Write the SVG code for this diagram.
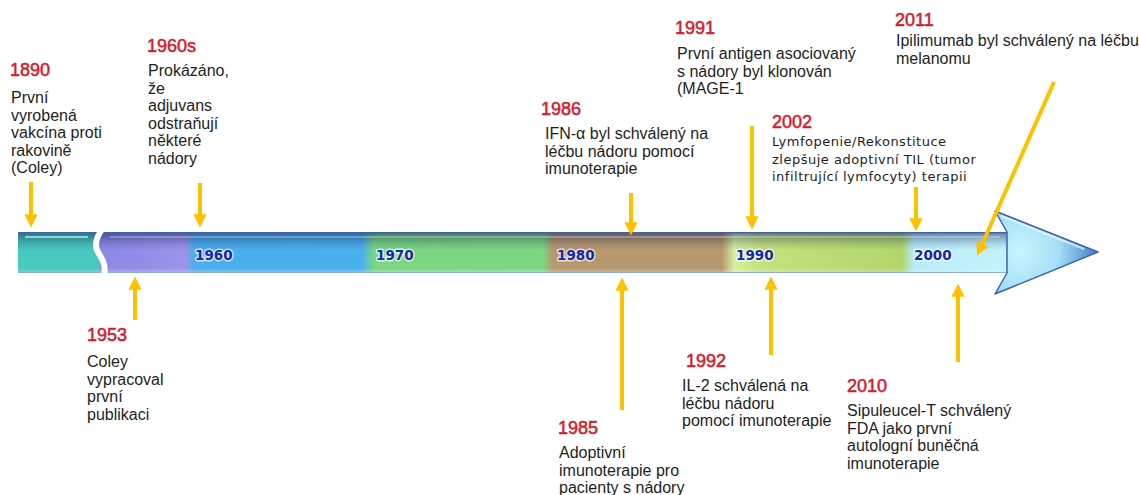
<svg xmlns="http://www.w3.org/2000/svg" width="1139" height="495" viewBox="0 0 1139 495">
<style>
.yr{font-family:"Liberation Sans",Arial,sans-serif;font-size:18px;fill:#d21d2e;stroke:#d21d2e;stroke-width:0.55}
.tx{font-family:"Liberation Sans",Arial,sans-serif;font-size:16px;fill:#1e1e1e}
.tx2{font-family:"DejaVu Sans",Verdana,sans-serif;font-size:13px;letter-spacing:0.5px;fill:#1e1e1e}
.bl{font-family:"DejaVu Sans",Verdana,sans-serif;font-size:13.5px;font-weight:bold;fill:#1428a8;stroke:#ffffff;stroke-width:3;stroke-opacity:0.7;paint-order:stroke;stroke-linejoin:round}
.ar{stroke:#ffc000;stroke-width:4;fill:none;marker-end:url(#ah)}
</style>
<defs>
<marker id="ah" viewBox="0 0 10 10" refX="2" refY="5" markerWidth="3.3" markerHeight="3.3" orient="auto">
<path d="M0,0 L10,5 L0,10 Z" fill="#ffc000"/>
</marker>
<linearGradient id="shaft" gradientUnits="userSpaceOnUse" x1="104" y1="0" x2="1000" y2="0">
<stop offset="0" stop-color="#8e88e6"/>
<stop offset="0.0904" stop-color="#9a94ea"/>
<stop offset="0.1016" stop-color="#4aaeec"/>
<stop offset="0.288" stop-color="#4ab0ee"/>
<stop offset="0.3013" stop-color="#7ad682"/>
<stop offset="0.49" stop-color="#7cd680"/>
<stop offset="0.5011" stop-color="#b8986e"/>
<stop offset="0.6897" stop-color="#b8986e"/>
<stop offset="0.7038" stop-color="#d6f0a0"/>
<stop offset="0.7321" stop-color="#c4e27e"/>
<stop offset="0.8906" stop-color="#b2d66c"/>
<stop offset="0.904" stop-color="#b8ecfa"/>
<stop offset="1" stop-color="#c4f2fc"/>
</linearGradient>
<linearGradient id="shade" x1="0" y1="0" x2="0" y2="1">
<stop offset="0" stop-color="#0a1a50" stop-opacity="0.5"/>
<stop offset="0.12" stop-color="#0a1a50" stop-opacity="0.35"/>
<stop offset="0.3" stop-color="#0a1a50" stop-opacity="0.12"/>
<stop offset="0.45" stop-color="#0a1a50" stop-opacity="0"/>
<stop offset="0.88" stop-color="#ffffff" stop-opacity="0"/>
<stop offset="1" stop-color="#ffffff" stop-opacity="0.3"/>
</linearGradient>
<radialGradient id="head" gradientUnits="userSpaceOnUse" cx="1020" cy="252" r="85">
<stop offset="0" stop-color="#c8f6fe"/>
<stop offset="0.45" stop-color="#a6e0f6"/>
<stop offset="0.8" stop-color="#5c96d6"/>
<stop offset="1" stop-color="#3a68bc"/>
</radialGradient>
</defs>

<g id="timeline-bar">
<rect x="18" y="232" width="92" height="41" fill="#48c8be"/>
<rect x="100" y="232" width="910" height="41" fill="url(#shaft)"/>
<rect x="18" y="232" width="992" height="41" fill="url(#shade)"/>
<line x1="18" y1="232.7" x2="1008" y2="232.7" stroke="#4262a6" stroke-width="1.5"/>
<line x1="25" y1="237" x2="88" y2="237" stroke="#a8f2e6" stroke-width="1.5"/>
<line x1="110" y1="237" x2="1000" y2="237" stroke="#ffffff" stroke-opacity="0.35" stroke-width="1.5"/>
<line x1="18" y1="272.5" x2="1008" y2="272.5" stroke="#8cb0d4" stroke-width="1"/>
<path d="M103,228 C97,236 94,243 97,250 C100,257 107,262 104,277" stroke="#ffffff" stroke-width="6" fill="none"/>
<polygon points="1007,232 995,211 1098,252 995,294 1007,273" fill="url(#head)" stroke="#3a64b0" stroke-width="1.5" stroke-linejoin="round"/>
<line x1="1001" y1="216" x2="1084" y2="249" stroke="#ffffff" stroke-opacity="0.6" stroke-width="2"/>
<text class="bl" x="195" y="260">1960</text>
<text class="bl" x="376" y="260">1970</text>
<text class="bl" x="557" y="260">1980</text>
<text class="bl" x="736" y="260">1990</text>
<text class="bl" x="914" y="260">2000</text>
</g>

<g id="connectors">
<line class="ar" x1="31" y1="182" x2="31" y2="217"/>
<line class="ar" x1="200" y1="183" x2="200" y2="217"/>
<line class="ar" x1="135" y1="320" x2="135" y2="287"/>
<line class="ar" x1="631" y1="193" x2="631" y2="225"/>
<line class="ar" x1="752" y1="126" x2="752" y2="219"/>
<line class="ar" x1="916" y1="187" x2="916" y2="221"/>
<line class="ar" x1="1054" y1="82" x2="981.4" y2="246"/>
<line class="ar" x1="622" y1="410" x2="622" y2="288"/>
<line class="ar" x1="771" y1="355" x2="771" y2="287"/>
<line class="ar" x1="958" y1="362" x2="958" y2="294"/>
</g>

<g id="e1890">
<text class="yr" x="10" y="76">1890</text>
<text class="tx" x="11"><tspan x="11" y="103">První</tspan><tspan x="11" y="120.5">vyrobená</tspan><tspan x="11" y="138">vakcína proti</tspan><tspan x="11" y="155.5">rakovině</tspan><tspan x="11" y="173">(Coley)</tspan></text>
</g>

<g id="e1960s">
<text class="yr" x="147" y="52">1960s</text>
<text class="tx"><tspan x="148" y="76">Prokázáno,</tspan><tspan x="148" y="93.5">že</tspan><tspan x="148" y="111">adjuvans</tspan><tspan x="148" y="128.5">odstraňují</tspan><tspan x="148" y="146">některé</tspan><tspan x="148" y="163.5">nádory</tspan></text>
</g>

<g id="e1953">
<text class="yr" x="87" y="341">1953</text>
<text class="tx"><tspan x="87" y="367">Coley</tspan><tspan x="87" y="384.5">vypracoval</tspan><tspan x="87" y="402">první</tspan><tspan x="87" y="419.5">publikaci</tspan></text>
</g>

<g id="e1986">
<text class="yr" x="541" y="115">1986</text>
<text class="tx"><tspan x="545" y="139">IFN-α byl schválený na</tspan><tspan x="545" y="156.5">léčbu nádoru pomocí</tspan><tspan x="545" y="174">imunoterapie</tspan></text>
</g>

<g id="e1991">
<text class="yr" x="675" y="34">1991</text>
<text class="tx"><tspan x="677" y="59">První antigen asociovaný</tspan><tspan x="677" y="76.5">s nádory byl klonován</tspan><tspan x="677" y="94">(MAGE-1</tspan></text>
</g>

<g id="e2002">
<text class="yr" x="772" y="128">2002</text>
<text class="tx2"><tspan x="772" y="146">Lymfopenie/Rekonstituce</tspan><tspan x="772" y="163.5">zlepšuje adoptivní TIL (tumor</tspan><tspan x="772" y="181">infiltrující lymfocyty) terapii</tspan></text>
</g>

<g id="e2011">
<text class="yr" x="895" y="26">2011</text>
<text class="tx"><tspan x="896" y="46">Ipilimumab byl schválený na léčbu</tspan><tspan x="896" y="63.5">melanomu</tspan></text>
</g>

<g id="e1985">
<text class="yr" x="558" y="434">1985</text>
<text class="tx"><tspan x="559" y="458">Adoptivní</tspan><tspan x="559" y="475.5">imunoterapie pro</tspan><tspan x="559" y="493">pacienty s nádory</tspan></text>
</g>

<g id="e1992">
<text class="yr" x="686" y="367">1992</text>
<text class="tx"><tspan x="682" y="391">IL-2 schválená na</tspan><tspan x="682" y="408.5">léčbu nádoru</tspan><tspan x="682" y="426">pomocí imunoterapie</tspan></text>
</g>

<g id="e2010">
<text class="yr" x="847" y="392">2010</text>
<text class="tx"><tspan x="847" y="416">Sipuleucel-T schválený</tspan><tspan x="847" y="433.5">FDA jako první</tspan><tspan x="847" y="451">autologní buněčná</tspan><tspan x="847" y="468.5">imunoterapie</tspan></text>
</g>
</svg>
